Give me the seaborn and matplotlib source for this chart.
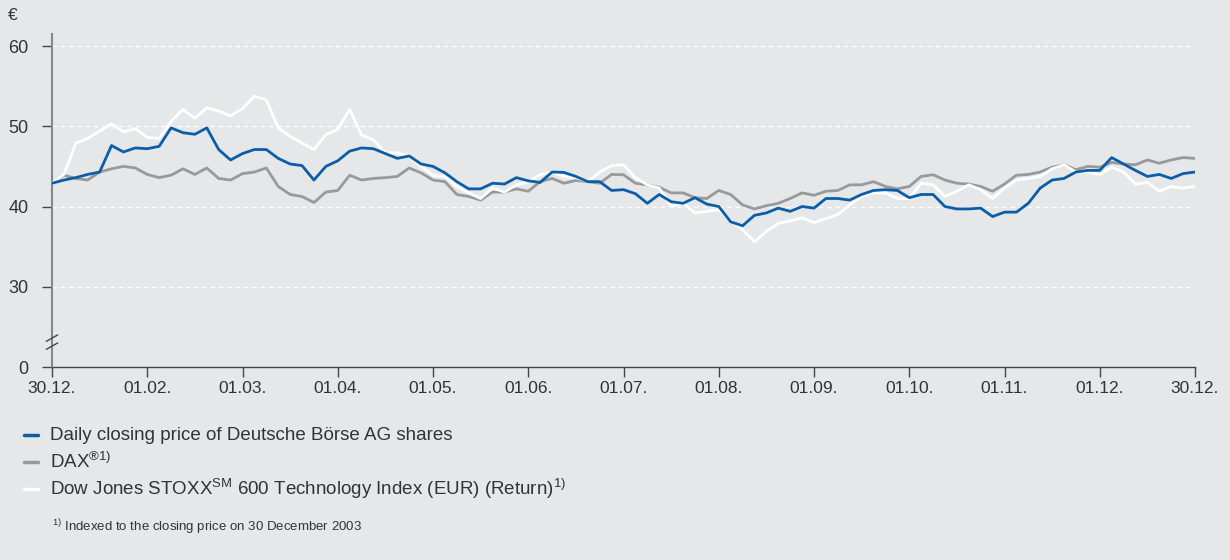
import matplotlib
matplotlib.use("Agg")
import matplotlib.pyplot as plt
import seaborn as sns
import numpy as np

# Indexed share prices, 8 samples per month (30.12.2003 - 30.12.2004)
deutsche_boerse = [
    42.9, 43.3, 43.6, 44.0, 44.3, 47.6, 46.8, 47.3, 47.2, 47.5, 49.8, 49.2, 49.0, 49.8, 47.1, 45.8, 46.6,
    47.1, 47.1, 46.0, 45.3, 45.1, 43.3, 45.0, 45.7, 46.9, 47.3, 47.2, 46.6, 46.0, 46.3, 45.3, 45.0,
    44.2, 43.1, 42.2, 42.2, 42.9, 42.8, 43.6, 43.2, 43.0, 44.3, 44.25, 43.75, 43.1, 43.1, 42.0, 42.1,
    41.6, 40.4, 41.5, 40.6, 40.4, 41.1, 40.3, 40.0, 38.1, 37.6, 38.9, 39.2, 39.8, 39.4, 40.0, 39.8, 41.0,
    41.0, 40.8, 41.5, 42.0, 42.1, 42.0, 41.1, 41.5, 41.5, 40.0, 39.7, 39.7, 39.8, 38.75, 39.3, 39.3,
    40.4, 42.3, 43.3, 43.5, 44.3, 44.5, 44.5, 46.1, 45.3, 44.5, 43.75, 44.0, 43.5, 44.1, 44.3,
]
dax = [
    42.9, 43.9, 43.5, 43.3, 44.3, 44.7, 45.0, 44.8, 44.0, 43.6, 43.9, 44.7, 44.0, 44.8, 43.5, 43.3, 44.1,
    44.3, 44.8, 42.5, 41.5, 41.25, 40.5, 41.8, 42.0, 43.9, 43.3, 43.5, 43.6, 43.75, 44.8, 44.2, 43.3,
    43.1, 41.5, 41.25, 40.8, 41.8, 41.8, 42.2, 41.9, 43.1, 43.5, 42.9, 43.25, 43.1, 42.9, 44.0, 43.96,
    42.9, 42.7, 42.4, 41.7, 41.7, 41.1, 41.0, 42.0, 41.5, 40.2, 39.7, 40.1, 40.4, 41.0, 41.7, 41.4, 41.9,
    42.0, 42.7, 42.7, 43.1, 42.5, 42.2, 42.5, 43.75, 43.96, 43.3, 42.9, 42.8, 42.5, 41.9, 42.8, 43.9,
    44.0, 44.3, 44.9, 45.2, 44.6, 45.0, 44.9, 45.5, 45.3, 45.2, 45.8, 45.4, 45.8, 46.1, 46.0,
]
stoxx_tech = [
    42.9, 44.0, 47.9, 48.5, 49.4, 50.3, 49.3, 49.7, 48.6, 48.5, 50.6, 52.1, 51.0, 52.3, 51.9, 51.3, 52.2,
    53.75, 53.3, 49.8, 48.75, 47.9, 47.1, 48.96, 49.6, 52.1, 48.9, 48.3, 46.7, 46.7, 46.25, 45.0, 43.9,
    43.75, 42.5, 41.7, 41.0, 42.3, 41.8, 42.7, 43.1, 43.96, 44.3, 43.75, 43.6, 43.1, 44.3, 45.1, 45.2,
    43.6, 42.7, 42.3, 40.0, 40.4, 39.2, 39.4, 39.6, 38.3, 37.1, 35.6, 36.9, 37.9, 38.2, 38.6, 38.0, 38.5,
    39.0, 40.2, 41.25, 41.7, 41.7, 41.0, 41.0, 42.9, 42.7, 41.25, 41.9, 42.7, 42.1, 41.0, 42.3, 43.3,
    43.5, 43.75, 44.7, 45.2, 44.3, 44.3, 43.96, 44.9, 44.3, 42.8, 43.0, 41.9, 42.5, 42.3, 42.5,
]
month_labels = ["30.12.", "01.02.", "01.03.", "01.04.", "01.05.", "01.06.", "01.07.",
                "01.08.", "01.09.", "01.10.", "01.11.", "01.12.", "30.12."]
y_ticks = [0, 30, 40, 50, 60]
legend_labels = [
    "Daily closing price of Deutsche Börse AG shares",
    "DAX$^{®1)}$",
    "Dow Jones STOXX$^{\\mathrm{SM}}$ 600 Technology Index (EUR) (Return)$^{1)}$",
]
footnote = "$^{1)}$ Indexed to the closing price on 30 December 2003"

bg = "#e6e7e9"
blue = "#0a5ea8"
grey = "#999999"
white = "#ffffff"
text_col = "#333333"

sns.set_theme(style="white")
plt.rcParams["font.family"] = ["Liberation Sans", "DejaVu Sans"]
plt.rcParams["mathtext.fontset"] = "custom"
plt.rcParams["mathtext.rm"] = "Liberation Sans"
plt.rcParams["mathtext.default"] = "regular"

fig = plt.figure(figsize=(12.3, 5.6), dpi=100, facecolor=bg)
ax = fig.add_axes([52 / 1230, 1 - 367 / 560, 1143 / 1230, 333 / 560])
ax.set_facecolor(bg)

# broken axis: 0 sits at position 20, everything >= 30 is plotted as is
def ypos(v):
    return v if v >= 30 else 20 + v * 10 / 30

for series, col in [(dax, grey), (stoxx_tech, white), (deutsche_boerse, blue)]:
    x = np.arange(len(series)) / 8
    sns.lineplot(x=x, y=series, ax=ax, color=col, lw=2.0, zorder=3)

for v in y_ticks[1:]:
    ax.axhline(ypos(v), xmin=0, xmax=0.997, color="white", lw=1, ls=(0, (3, 3)), zorder=1)

ax.set_xlim(0, 12)
ax.set_ylim(20, 61.5)
ax.set_xticks(range(13))
ax.set_xticklabels(month_labels)
ax.set_yticks([ypos(v) for v in y_ticks])
ax.set_yticklabels([str(v) for v in y_ticks])
ax.tick_params(axis="x", direction="out", length=7, width=1, color="#444444",
               labelsize=12.5, labelcolor=text_col, pad=3, bottom=True)
ax.tick_params(axis="y", direction="out", length=7, width=1, color="#444444",
               labelsize=13, labelcolor=text_col, pad=10, left=True)
for side in ["top", "right"]:
    ax.spines[side].set_visible(False)
ax.spines["left"].set_color("#888888")
ax.spines["left"].set_linewidth(1.5)
ax.spines["bottom"].set_color("#444444")
ax.spines["bottom"].set_linewidth(1)

# axis break marks
for yb in [22.6, 23.6]:
    ax.plot([-0.06, 0.06], [yb - 0.4, yb + 0.4], color="#444444", lw=1, clip_on=False, zorder=5)

fig.text(8 / 1230, 1 - 16 / 560, "€", fontsize=12.5, color=text_col, va="center")

# legend drawn by hand, like the original
for i, (lab, col) in enumerate(zip(legend_labels, [blue, grey, white])):
    yy = 1 - (435 + 27 * i) / 560
    fig.add_artist(plt.Line2D([24 / 1230, 38 / 1230], [yy, yy], color=col, lw=2.5,
                              transform=fig.transFigure))
    fig.text(50 / 1230, yy, lab, fontsize=13.5, color=text_col, va="center")
fig.text(52 / 1230, 1 - 527 / 560, footnote, fontsize=9.5, color=text_col, va="center")

fig.savefig("out.png", dpi=100, facecolor=bg)
